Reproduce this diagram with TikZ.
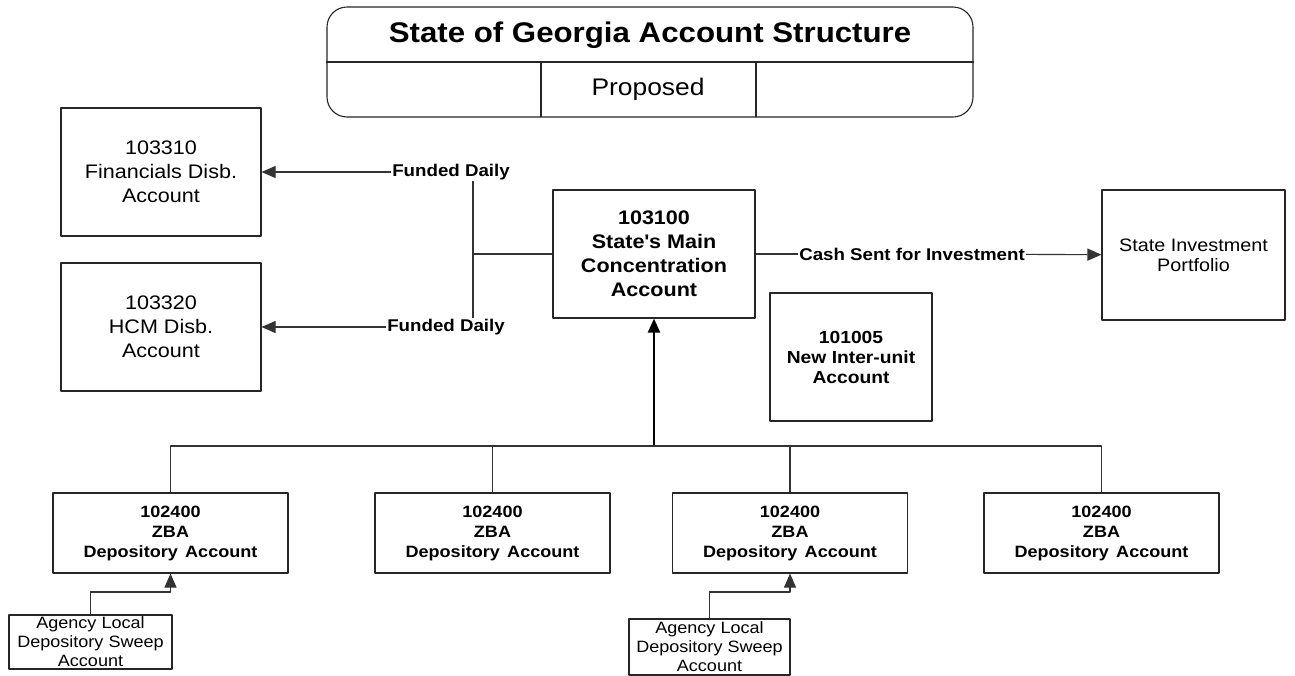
\documentclass[tikz,border=0pt]{standalone}
\usepackage{fontspec}
\setmainfont{Liberation Sans}[FakeStretch=1.1]
\usetikzlibrary{arrows.meta}
\begin{document}
\begin{tikzpicture}[x=1pt,y=-1pt,>={Triangle[length=14pt,width=12pt]},line join=round,
	box/.style={draw=black!85,line width=1.1pt,align=center,inner sep=0pt},
	acct/.style 2 args={box,minimum width=#1pt,minimum height=#2pt},
	lbl/.style={font=\bfseries\fontsize{17}{18}\selectfont,inner sep=1pt},
	wire/.style={draw=black!80,line width=1.1pt}]
	\fill[white] (0,0) rectangle (1295,675);
	\useasboundingbox (0,0) rectangle (1295,675);
	% heading
	\node[box,rounded corners=20pt,minimum width=646pt,minimum height=110pt] (title) at (650,62) {};
	\node[font=\bfseries\fontsize{28.4}{32}\selectfont] (head) at (650,35) {State of Georgia Account Structure};
	\node[font=\fontsize{24}{28}\selectfont] (prop) at (648,89) {Proposed};
	\draw[box] (title.west)--(title.east) (541,62)--(541,117) (756,62)--(756,117);
	% accounts
	\node[acct={200}{128},font=\fontsize{19.6}{24}\selectfont] (fin) at (161,172) {103310\\Financials Disb.\\Account};
	\node[acct={200}{128},font=\fontsize{19.6}{24}\selectfont] (hcm) at (161,327) {103320\\HCM Disb.\\Account};
	\node[acct={202}{128},font=\bfseries\fontsize{19.6}{24}\selectfont] (main) at (654,254) {103100\\State\textquotesingle s Main\\Concentration\\Account};
	\node[acct={183}{130},font=\fontsize{18}{20}\selectfont] (inv) at (1193.5,255) {State Investment\\Portfolio};
	\node[acct={162}{128},font=\bfseries\fontsize{17.5}{20}\selectfont] (iu) at (851,357) {101005\\New Inter-unit\\Account};
	\foreach \n/\x in {1/170.5,2/492.5,3/790,4/1101.5}
		\node[acct={235}{80},font=\bfseries\fontsize{16.4}{20}\selectfont] (zba\n) at (\x,533) {102400\\ZBA\\Depository\hspace{0.45em}Account};
	\node[acct={163}{54},font=\fontsize{16.4}{19}\selectfont] (sw1) at (90.5,642) {Agency Local\\Depository Sweep\\Account};
	\node[acct={161}{56},font=\fontsize{16.4}{19}\selectfont] (sw2) at (709.5,647) {Agency Local\\Depository Sweep\\Account};
	% flows
	\node[lbl] (fd1) at (451,172) {Funded Daily};
	\node[lbl] (fd2) at (446,327) {Funded Daily};
	\node[lbl] (cash) at (912,254) {Cash Sent for Investment};
	\coordinate (split) at (473,254);
	\coordinate (bus) at (654,446);
	\draw[wire,->] (fd1)--(fin);
	\draw[wire,->] (fd2)--(hcm);
	\draw[wire] (split|-fd1.south)--(split|-fd2.north) (split)--(main);
	\draw[wire] (main)--(cash);
	\draw[wire,->] (cash)--(inv);
	\draw[wire,line width=2.2pt,draw=black,->] (bus)--(main);
	\draw[wire] (zba1.north)--(zba1.north|-bus)--(zba4.north|-bus)--(zba4.north);
	\foreach \n in {2,3} \draw[wire] (zba\n.north)--(zba\n.north|-bus);
	\draw[wire,->] (sw1.north)--(sw1.north|-0,592)-|(zba1.south);
	\draw[wire,->] (sw2.north)--(sw2.north|-0,592)-|(zba3.south);
\end{tikzpicture}
\end{document}
